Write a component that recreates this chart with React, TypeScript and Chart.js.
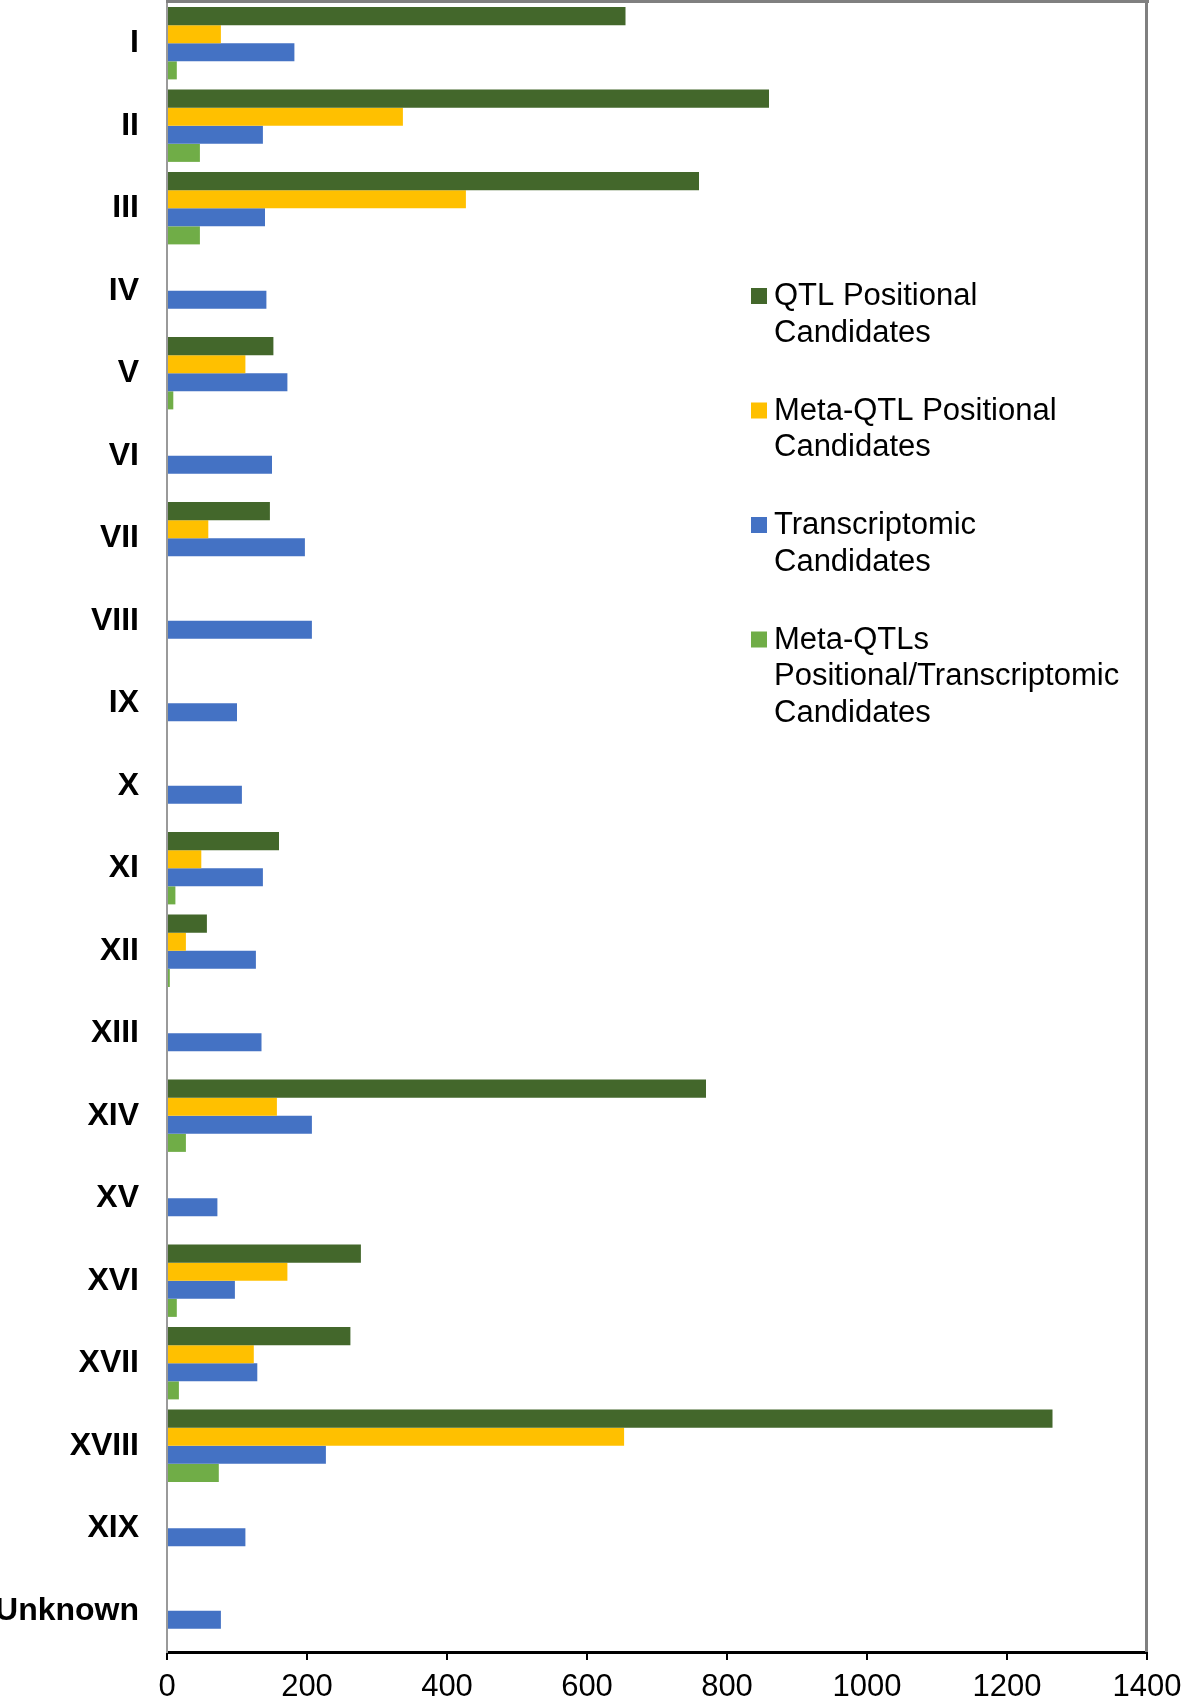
import { useEffect, useRef } from "react";
import { Chart, registerables } from "chart.js";

Chart.register(...registerables);

const categories = [
  "I", "II", "III", "IV", "V", "VI", "VII", "VIII", "IX", "X",
  "XI", "XII", "XIII", "XIV", "XV", "XVI", "XVII", "XVIII", "XIX", "Unknown",
];

const qtlPositional = [655, 860, 760, null, 152, null, 147, null, null, null, 160, 57, null, 770, null, 277, 262, 1265, null, null];
const metaQtlPositional = [77, 337, 427, null, 112, null, 59, null, null, null, 49, 27, null, 157, null, 172, 124, 653, null, null];
const transcriptomic = [182, 137, 140, 142, 172, 150, 197, 207, 100, 107, 137, 127, 135, 207, 72, 97, 129, 227, 112, 77];
const metaQtlsPosTrans = [14, 47, 47, null, 9, null, null, null, null, null, 12, 4, null, 27, null, 14, 17, 74, null, null];

const legendLines = [
  ["QTL Positional", "Candidates"],
  ["Meta-QTL Positional", "Candidates"],
  ["Transcriptomic", "Candidates"],
  ["Meta-QTLs", "Positional/Transcriptomic", "Candidates"],
];

const seriesColors = ["#43672B", "#FFC000", "#4472C4", "#70AD47"];
const seriesValues = [qtlPositional, metaQtlPositional, transcriptomic, metaQtlsPosTrans];

const xMin = 0;
const xMax = 1400;
const xStep = 200;

const FONT = "'Liberation Sans', Arial, Helvetica, sans-serif";

const framePlugin = {
  id: "frameAndLegend",
  afterDraw(chart: any) {
    const { ctx, chartArea } = chart;
    const { left, right, bottom } = chartArea;
    ctx.save();
    // top and right frame
    ctx.fillStyle = "#808080";
    ctx.fillRect(left - 1, 0, right - left + 3, 3);
    ctx.fillRect(right - 2, 0, 3, bottom);

    // legend
    const lx = left + 584;
    const tx = left + 607;
    let baseline = 305;
    const lineH = 36.5;
    ctx.font = `31px ${FONT}`;
    ctx.textBaseline = "alphabetic";
    ctx.textAlign = "left";
    chart.data.datasets.forEach((ds: any, i: number) => {
      const lines = legendLines[i];
      ctx.fillStyle = ds.backgroundColor;
      ctx.fillRect(lx, baseline - 17, 16, 16);
      ctx.fillStyle = "#000";
      lines.forEach((ln: string, j: number) => {
        ctx.fillText(ln, tx, baseline + j * lineH);
      });
      baseline += (lines.length - 1) * lineH + 78;
    });
    ctx.restore();
  },
};

function zeroPadding(scale: any) {
  scale.paddingTop = 0;
  scale.paddingBottom = 0;
  scale.paddingLeft = 0;
  scale.paddingRight = 0;
}

export default function App() {
  const canvasRef = useRef<HTMLCanvasElement | null>(null);

  useEffect(() => {
    if (!canvasRef.current) return;
    const chart = new Chart(canvasRef.current, {
      type: "bar",
      data: {
        labels: categories,
        datasets: seriesValues.map((vals, i) => ({
          label: legendLines[i].join(" "),
          data: vals,
          backgroundColor: seriesColors[i],
          borderWidth: 0,
          categoryPercentage: 0.876,
          barPercentage: 1.0,
        })),
      },
      options: {
        indexAxis: "y",
        animation: false,
        responsive: true,
        maintainAspectRatio: false,
        layout: { padding: { top: 2, right: 34, left: 0, bottom: 0 } },
        plugins: {
          legend: { display: false },
          tooltip: { enabled: false },
          title: { display: false },
        },
        scales: {
          x: {
            type: "linear",
            min: xMin,
            max: xMax,
            ticks: {
              stepSize: xStep,
              color: "#000",
              font: { family: FONT, size: 31 },
              padding: 9,
              callback: (v: any) => String(v),
            },
            grid: {
              drawOnChartArea: false,
              drawTicks: true,
              tickLength: 8,
              color: "#000",
              lineWidth: 2,
            },
            border: { display: true, color: "#000", width: 3 },
            afterFit(scale: any) {
              scale.height = 46;
              zeroPadding(scale);
            },
          },
          y: {
            type: "category",
            ticks: {
              color: "#000",
              font: { family: FONT, size: 32, weight: "bold" },
              padding: 28,
            },
            grid: { display: false, drawTicks: false },
            border: { display: true, color: "#9a9a9a", width: 2 },
            afterFit(scale: any) {
              scale.width = 167;
              zeroPadding(scale);
            },
          },
        },
      },
      plugins: [framePlugin],
    });
    return () => chart.destroy();
  }, []);

  return (
    <div style={{ position: "absolute", left: 0, top: 0, width: 1181, height: 1698, background: "#fff" }}>
      <canvas ref={canvasRef} />
    </div>
  );
}
